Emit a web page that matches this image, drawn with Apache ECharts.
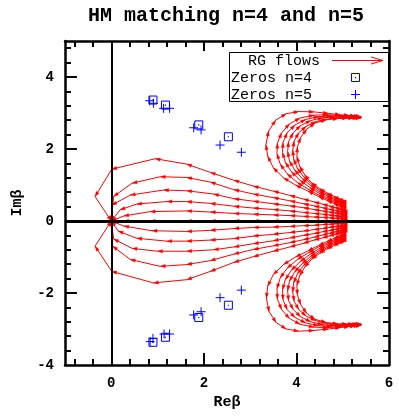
<!DOCTYPE html>
<html>
<head>
<meta charset="utf-8">
<script src="https://cdn.jsdelivr.net/npm/echarts@6/dist/echarts.min.js"></script>
<style>html,body{margin:0;padding:0;background:#fff}#c{width:399px;height:417px}</style>
</head>
<body>
<div id="c"></div>
<script>
// ---- tick values ----
const xMajorTicks = [0, 2, 4];
const xLabels = [0, 2, 4, 6];
const xMinorTicks = [-0.8, -0.4, 0.4, 0.8, 1.2, 1.6, 2.4, 2.8, 3.2, 3.6, 4.4, 4.8, 5.2, 5.6];
const yMajorTicks = [-2, 0, 2, 4];
const yLabels = [-4, -2, 0, 2, 4];
const yMinorTicks = [-3.6, -3.2, -2.8, -2.4, -1.6, -1.2, -0.8, -0.4, 0.4, 0.8, 1.2, 1.6, 2.4, 2.8, 3.2, 3.6, 4.4, 4.8];

// ---- RG flows: upper fan ----
const flowU1 = [[5.02,0.30],[4.99,0.31],[4.95,0.33],[4.89,0.35],[4.81,0.38],[4.70,0.42],[4.56,0.47],[4.38,0.53],[4.15,0.61],[3.86,0.71],[3.50,0.83],[3.07,0.97],[2.65,1.13],[2.14,1.35],[1.63,1.58],[0.95,1.73],[0.01,1.44],[-0.35,0.68],[0,0]];
const flowU2 = [[5.02,0.24],[4.99,0.25],[4.95,0.26],[4.89,0.28],[4.81,0.30],[4.70,0.33],[4.56,0.37],[4.38,0.42],[4.15,0.48],[3.86,0.56],[3.50,0.65],[3.07,0.75],[2.65,0.87],[2.14,1.08],[1.63,1.21],[1.06,1.23],[0.45,1.05],[0.05,0.68],[0,0]];
const flowU3 = [[5.02,0.18],[4.99,0.19],[4.95,0.20],[4.89,0.21],[4.81,0.23],[4.70,0.25],[4.56,0.28],[4.38,0.32],[4.15,0.37],[3.86,0.42],[3.50,0.48],[3.07,0.55],[2.65,0.62],[2.21,0.75],[1.63,0.84],[1.13,0.86],[0.41,0.72],[0.01,0.44],[0,0]];
const flowU4 = [[5.02,0.12],[4.99,0.13],[4.95,0.13],[4.89,0.14],[4.81,0.15],[4.70,0.17],[4.56,0.19],[4.38,0.21],[4.15,0.24],[3.86,0.28],[3.50,0.32],[3.07,0.36],[2.65,0.41],[2.14,0.49],[1.63,0.54],[1.20,0.54],[0.55,0.47],[0.19,0.31],[0,0]];
const flowU5 = [[5.02,0.06],[4.99,0.06],[4.95,0.07],[4.89,0.07],[4.81,0.08],[4.70,0.09],[4.56,0.10],[4.38,0.11],[4.15,0.13],[3.86,0.15],[3.50,0.17],[3.07,0.19],[2.65,0.21],[2.14,0.25],[1.63,0.28],[0.84,0.26],[0.27,0.14],[0,0]];
const flowAxis = [[5.02,0.0],[4.99,0.0],[4.95,0.0],[4.89,0.0],[4.81,0.0],[4.70,0.0],[4.56,0.0],[4.38,0.0],[4.15,0.0],[3.86,0.0],[3.50,0.0],[3.07,0.0],[2.65,0.0],[2.14,0.0],[1.63,0.0],[0.84,0.0],[0.27,0.0],[0,0]];
// ---- lower fan ----
const flowL5 = [[5.02,-0.06],[4.99,-0.06],[4.95,-0.07],[4.89,-0.07],[4.81,-0.08],[4.70,-0.09],[4.56,-0.10],[4.38,-0.12],[4.15,-0.13],[3.86,-0.15],[3.50,-0.17],[3.07,-0.18],[2.65,-0.21],[2.14,-0.26],[1.63,-0.29],[0.88,-0.27],[0.27,-0.14],[0,0]];
const flowL4 = [[5.02,-0.12],[4.99,-0.13],[4.95,-0.14],[4.89,-0.15],[4.81,-0.16],[4.70,-0.18],[4.56,-0.21],[4.38,-0.24],[4.15,-0.28],[3.86,-0.32],[3.50,-0.37],[3.07,-0.42],[2.65,-0.49],[2.14,-0.53],[1.63,-0.56],[1.20,-0.56],[0.55,-0.48],[0.15,-0.28],[0,0]];
const flowL3 = [[5.02,-0.18],[4.99,-0.19],[4.95,-0.20],[4.89,-0.22],[4.81,-0.24],[4.70,-0.27],[4.56,-0.30],[4.38,-0.35],[4.15,-0.40],[3.86,-0.47],[3.50,-0.55],[3.07,-0.63],[2.65,-0.72],[2.21,-0.80],[1.63,-0.84],[1.00,-0.84],[0.45,-0.76],[0.05,-0.50],[0,0]];
const flowL2 = [[5.02,-0.24],[4.99,-0.25],[4.95,-0.27],[4.89,-0.29],[4.81,-0.31],[4.70,-0.35],[4.56,-0.39],[4.38,-0.45],[4.15,-0.52],[3.86,-0.60],[3.50,-0.69],[3.07,-0.79],[2.65,-0.92],[2.14,-1.10],[1.63,-1.21],[1.06,-1.26],[0.41,-1.07],[0.03,-0.70],[0,0]];
const flowL1 = [[5.02,-0.30],[4.99,-0.31],[4.95,-0.33],[4.89,-0.35],[4.81,-0.38],[4.70,-0.42],[4.56,-0.47],[4.38,-0.53],[4.15,-0.62],[3.86,-0.72],[3.50,-0.84],[3.07,-0.99],[2.65,-1.15],[2.14,-1.40],[1.63,-1.63],[0.91,-1.72],[0.01,-1.40],[-0.35,-0.70],[0,0]];
// ---- upper C-shaped flows ----
const flowC1 = [[5.02,0.36],[4.97,0.39],[4.90,0.43],[4.80,0.49],[4.66,0.57],[4.48,0.68],[4.25,0.83],[3.98,1.00],[3.72,1.20],[3.50,1.48],[3.38,1.80],[3.34,2.12],[3.40,2.50],[3.55,2.80],[3.78,2.98],[4.05,3.04],[4.38,3.03],[4.69,2.99],[4.95,2.95],[5.14,2.93],[5.27,2.91],[5.35,2.90],[5.40,2.89]];
const flowC2 = [[5.02,0.40],[4.97,0.43],[4.90,0.47],[4.80,0.53],[4.66,0.61],[4.48,0.72],[4.26,0.88],[4.02,1.07],[3.80,1.31],[3.65,1.58],[3.58,1.87],[3.59,2.16],[3.68,2.45],[3.85,2.70],[4.08,2.86],[4.38,2.94],[4.68,2.95],[4.95,2.93],[5.14,2.92],[5.27,2.91],[5.35,2.90],[5.40,2.89]];
const flowC3 = [[5.02,0.44],[4.97,0.47],[4.90,0.51],[4.80,0.57],[4.66,0.65],[4.49,0.77],[4.29,0.93],[4.08,1.13],[3.89,1.37],[3.76,1.63],[3.70,1.90],[3.71,2.18],[3.80,2.45],[3.97,2.67],[4.20,2.82],[4.48,2.90],[4.76,2.92],[5.00,2.91],[5.17,2.90],[5.29,2.89],[5.36,2.89],[5.40,2.88]];
const flowC4 = [[5.02,0.48],[4.97,0.51],[4.90,0.55],[4.80,0.61],[4.66,0.70],[4.49,0.82],[4.30,0.99],[4.12,1.19],[3.96,1.42],[3.85,1.67],[3.81,1.93],[3.83,2.20],[3.93,2.45],[4.09,2.65],[4.31,2.79],[4.57,2.87],[4.83,2.89],[5.05,2.89],[5.20,2.89],[5.31,2.88],[5.37,2.88],[5.40,2.88]];
const flowC5 = [[5.02,0.52],[4.97,0.55],[4.90,0.59],[4.80,0.65],[4.66,0.74],[4.50,0.86],[4.32,1.03],[4.15,1.24],[4.02,1.47],[3.94,1.72],[3.92,1.97],[3.95,2.22],[4.05,2.45],[4.21,2.63],[4.42,2.76],[4.66,2.83],[4.90,2.86],[5.10,2.87],[5.23,2.87],[5.32,2.87],[5.37,2.87],[5.40,2.87]];
const flowC6 = [[5.02,0.56],[4.97,0.59],[4.90,0.63],[4.80,0.69],[4.66,0.78],[4.50,0.90],[4.33,1.06],[4.18,1.28],[4.07,1.52],[4.01,1.79],[4.02,2.05],[4.09,2.32],[4.22,2.55],[4.40,2.72],[4.64,2.81],[4.90,2.85],[5.10,2.86],[5.24,2.86],[5.33,2.86],[5.40,2.86]];
// ---- lower C-shaped flows ----
const flowD1 = [[5.02,-0.36],[4.97,-0.39],[4.90,-0.43],[4.80,-0.49],[4.66,-0.57],[4.48,-0.68],[4.25,-0.83],[3.98,-1.00],[3.72,-1.21],[3.50,-1.49],[3.38,-1.81],[3.35,-2.14],[3.41,-2.52],[3.56,-2.82],[3.78,-3.00],[4.05,-3.06],[4.38,-3.04],[4.69,-3.00],[4.95,-2.96],[5.14,-2.93],[5.27,-2.91],[5.35,-2.90],[5.40,-2.89]];
const flowD2 = [[5.02,-0.40],[4.97,-0.43],[4.90,-0.47],[4.80,-0.53],[4.66,-0.61],[4.48,-0.72],[4.26,-0.88],[4.02,-1.07],[3.80,-1.31],[3.65,-1.58],[3.58,-1.88],[3.59,-2.17],[3.68,-2.46],[3.85,-2.71],[4.08,-2.87],[4.38,-2.95],[4.68,-2.96],[4.95,-2.94],[5.14,-2.92],[5.27,-2.91],[5.35,-2.90],[5.40,-2.89]];
const flowD3 = [[5.02,-0.44],[4.97,-0.47],[4.90,-0.51],[4.80,-0.57],[4.66,-0.65],[4.49,-0.77],[4.29,-0.93],[4.08,-1.13],[3.89,-1.37],[3.76,-1.63],[3.70,-1.91],[3.71,-2.19],[3.80,-2.46],[3.97,-2.68],[4.20,-2.83],[4.48,-2.91],[4.76,-2.92],[5.00,-2.91],[5.17,-2.90],[5.29,-2.89],[5.36,-2.89],[5.40,-2.88]];
const flowD4 = [[5.02,-0.48],[4.97,-0.51],[4.90,-0.55],[4.80,-0.61],[4.66,-0.70],[4.49,-0.82],[4.30,-0.99],[4.12,-1.19],[3.96,-1.42],[3.85,-1.67],[3.81,-1.94],[3.83,-2.21],[3.93,-2.46],[4.09,-2.66],[4.31,-2.80],[4.57,-2.88],[4.83,-2.90],[5.05,-2.89],[5.20,-2.89],[5.31,-2.88],[5.37,-2.88],[5.40,-2.88]];
const flowD5 = [[5.02,-0.52],[4.97,-0.55],[4.90,-0.59],[4.80,-0.65],[4.66,-0.74],[4.50,-0.86],[4.32,-1.03],[4.15,-1.24],[4.02,-1.47],[3.94,-1.72],[3.92,-1.98],[3.95,-2.23],[4.05,-2.46],[4.21,-2.64],[4.42,-2.77],[4.66,-2.84],[4.90,-2.87],[5.10,-2.87],[5.23,-2.87],[5.32,-2.87],[5.37,-2.87],[5.40,-2.87]];
const flowD6 = [[5.02,-0.56],[4.97,-0.59],[4.90,-0.63],[4.80,-0.69],[4.66,-0.78],[4.50,-0.90],[4.33,-1.06],[4.18,-1.28],[4.07,-1.52],[4.01,-1.79],[4.02,-2.05],[4.09,-2.32],[4.22,-2.56],[4.40,-2.73],[4.64,-2.82],[4.90,-2.86],[5.10,-2.87],[5.24,-2.87],[5.33,-2.86],[5.40,-2.86]];

const flows = [flowU1, flowU2, flowU3, flowU4, flowU5, flowAxis, flowL1, flowL2, flowL3, flowL4, flowL5,
  flowC1, flowC2, flowC3, flowC4, flowC5, flowC6, flowD1, flowD2, flowD3, flowD4, flowD5, flowD6];

// ---- zeros ----
const zerosN4 = [[0.90,3.36],[1.17,3.22],[1.89,2.67],[2.53,2.34],[0.90,-3.37],[1.17,-3.23],[1.89,-2.68],[2.53,-2.34]];
const zerosN5 = [[0.83,3.34],[0.91,3.27],[1.13,3.13],[1.26,3.13],[1.78,2.59],[1.94,2.53],[2.35,2.11],[2.81,1.91],
  [0.84,-3.35],[0.90,-3.26],[1.14,-3.14],[1.26,-3.14],[1.78,-2.61],[1.94,-2.52],[2.35,-2.13],[2.81,-1.92]];

// build segment table for the vectors
const segments = [];
flows.forEach(f => { for (let i = 0; i + 1 < f.length; i++) segments.push([f[i][0], f[i][1], f[i+1][0], f[i+1][1]]); });

const RED = '#ff0000', BLUE = '#0000ff';
const MONO = '"Liberation Mono", "Courier New", monospace';

function renderVector(params, api) {
  const p1 = api.coord([api.value(0), api.value(1)]);
  const p2 = api.coord([api.value(2), api.value(3)]);
  const dx = p2[0] - p1[0], dy = p2[1] - p1[1];
  const len = Math.hypot(dx, dy);
  const children = [{ type: 'line', shape: { x1: p1[0], y1: p1[1], x2: p2[0], y2: p2[1] }, style: { stroke: RED, lineWidth: 1 } }];
  if (len > 0.01) {
    const ux = dx / len, uy = dy / len, L = 5, W = 1.7;
    const bx = p2[0] - ux * L, by = p2[1] - uy * L;
    children.push({ type: 'polygon', shape: { points: [[p2[0], p2[1]], [bx - uy * W, by + ux * W], [bx + uy * W, by - ux * W]] }, style: { fill: RED, stroke: RED, lineWidth: 0.3 } });
  }
  return { type: 'group', children };
}
function renderBox(params, api) {
  const p = api.coord([api.value(0), api.value(1)]);
  return { type: 'group', children: [
    { type: 'rect', shape: { x: p[0] - 4, y: p[1] - 4, width: 8, height: 8 }, style: { fill: 'none', stroke: BLUE, lineWidth: 1 } },
    { type: 'rect', shape: { x: p[0] - 0.6, y: p[1] - 0.6, width: 1.2, height: 1.2 }, style: { fill: BLUE } }
  ]};
}
function renderPlus(params, api) {
  const p = api.coord([api.value(0), api.value(1)]);
  return { type: 'group', children: [
    { type: 'line', shape: { x1: p[0] - 4.5, y1: p[1], x2: p[0] + 4.5, y2: p[1] }, style: { stroke: BLUE, lineWidth: 1 } },
    { type: 'line', shape: { x1: p[0], y1: p[1] - 4.5, x2: p[0], y2: p[1] + 4.5 }, style: { stroke: BLUE, lineWidth: 1 } }
  ]};
}

const tickLabelStyle = { fontFamily: MONO, fontWeight: 'bold', fontSize: 14, color: '#000' };
function axisX(pos, values, len, labels, withLine) {
  return {
    type: 'value', position: pos, min: -1, max: 6, gridIndex: 0,
    axisLine: { show: withLine, onZero: false, lineStyle: { color: '#000', width: 2.5 } },
    axisTick: { show: true, inside: true, length: len, customValues: values, lineStyle: { color: '#000', width: 2 } },
    axisLabel: labels ? Object.assign({ show: true, margin: 11, customValues: labels }, tickLabelStyle) : { show: false },
    splitLine: { show: false }
  };
}
function axisY(pos, values, len, labels, withLine) {
  return {
    type: 'value', position: pos, min: -4, max: 5, gridIndex: 0,
    axisLine: { show: withLine, onZero: false, lineStyle: { color: '#000', width: 2.5 } },
    axisTick: { show: true, inside: true, length: len, customValues: values, lineStyle: { color: '#000', width: 2 } },
    axisLabel: labels ? Object.assign({ show: true, margin: 11, customValues: labels }, tickLabelStyle) : { show: false },
    splitLine: { show: false }
  };
}

const xA = [axisX('bottom', xMajorTicks, 12, xLabels, true), axisX('bottom', xMinorTicks, 6, null, false),
            axisX('top', xMajorTicks, 10, null, true), axisX('top', xMinorTicks, 6, null, false)];
Object.assign(xA[0], { name: 'Reβ', nameLocation: 'middle', nameGap: 28,
  nameTextStyle: { fontFamily: MONO, fontWeight: 'bold', fontSize: 15, color: '#000' } });
const yA = [axisY('left', yMajorTicks, 12, yLabels, true), axisY('left', yMinorTicks, 6, null, false),
            axisY('right', yMajorTicks, 12, null, true), axisY('right', yMinorTicks, 6, null, false)];
Object.assign(yA[0], { name: 'Imβ', nameLocation: 'middle', nameGap: 40, nameRotate: 90,
  nameTextStyle: { fontFamily: MONO, fontWeight: 'bold', fontSize: 15, color: '#000' } });

const chart = echarts.init(document.getElementById('c'), null, { renderer: 'canvas' });
chart.setOption({
  animation: false,
  backgroundColor: '#fff',
  title: { text: 'HM matching n=4 and n=5', left: 88, top: 6, padding: 0,
    textStyle: { fontFamily: MONO, fontWeight: 'bold', fontSize: 20, color: '#000' } },
  grid: { left: 65, top: 41, width: 324, height: 324, containLabel: false },
  xAxis: xA,
  yAxis: yA,
  series: [
    { type: 'scatter', data: [], z: 1, silent: true,
      markLine: { silent: true, symbol: ['none', 'none'], label: { show: false }, animation: false,
        data: [ { xAxis: 0, lineStyle: { color: '#000', width: 2, type: 'solid' } },
                { yAxis: 0, lineStyle: { color: '#000', width: 3, type: 'solid' } } ] } },
    { type: 'custom', name: 'RG flows', z: 3, data: segments, renderItem: renderVector,
      encode: { x: [0, 2], y: [1, 3] }, silent: true },
    { type: 'custom', name: 'Zeros n=4', z: 4, data: zerosN4, renderItem: renderBox, encode: { x: 0, y: 1 }, silent: true },
    { type: 'custom', name: 'Zeros n=5', z: 4, data: zerosN5, renderItem: renderPlus, encode: { x: 0, y: 1 }, silent: true }
  ],
  graphic: [
    { type: 'rect', z: 10, shape: { x: 229.5, y: 52.5, width: 159, height: 49 }, style: { fill: '#fff', stroke: '#000', lineWidth: 1 } },
    { type: 'text', z: 11, x: 320, y: 61, style: { text: 'RG flows', font: '15px ' + MONO, fill: '#000', align: 'right', verticalAlign: 'middle', textAlign: 'right', textVerticalAlign: 'middle' } },
    { type: 'text', z: 11, x: 312, y: 78, style: { text: 'Zeros n=4', font: '15px ' + MONO, fill: '#000', align: 'right', verticalAlign: 'middle', textAlign: 'right', textVerticalAlign: 'middle' } },
    { type: 'text', z: 11, x: 312, y: 95, style: { text: 'Zeros n=5', font: '15px ' + MONO, fill: '#000', align: 'right', verticalAlign: 'middle', textAlign: 'right', textVerticalAlign: 'middle' } },
    { type: 'line', z: 11, shape: { x1: 332, y1: 60.5, x2: 383, y2: 60.5 }, style: { stroke: RED, lineWidth: 1 } },
    { type: 'polyline', z: 11, shape: { points: [[371, 57], [383, 60.5], [371, 64]] }, style: { stroke: RED, lineWidth: 1, fill: 'none' } },
    { type: 'rect', z: 11, shape: { x: 351.5, y: 73.5, width: 8, height: 8 }, style: { fill: 'none', stroke: BLUE, lineWidth: 1 } },
    { type: 'rect', z: 11, shape: { x: 355, y: 77, width: 1.2, height: 1.2 }, style: { fill: BLUE } },
    { type: 'line', z: 11, shape: { x1: 351, y1: 94.5, x2: 360, y2: 94.5 }, style: { stroke: BLUE, lineWidth: 1 } },
    { type: 'line', z: 11, shape: { x1: 355.5, y1: 90, x2: 355.5, y2: 99 }, style: { stroke: BLUE, lineWidth: 1 } }
  ]
});
</script>
</body>
</html>
